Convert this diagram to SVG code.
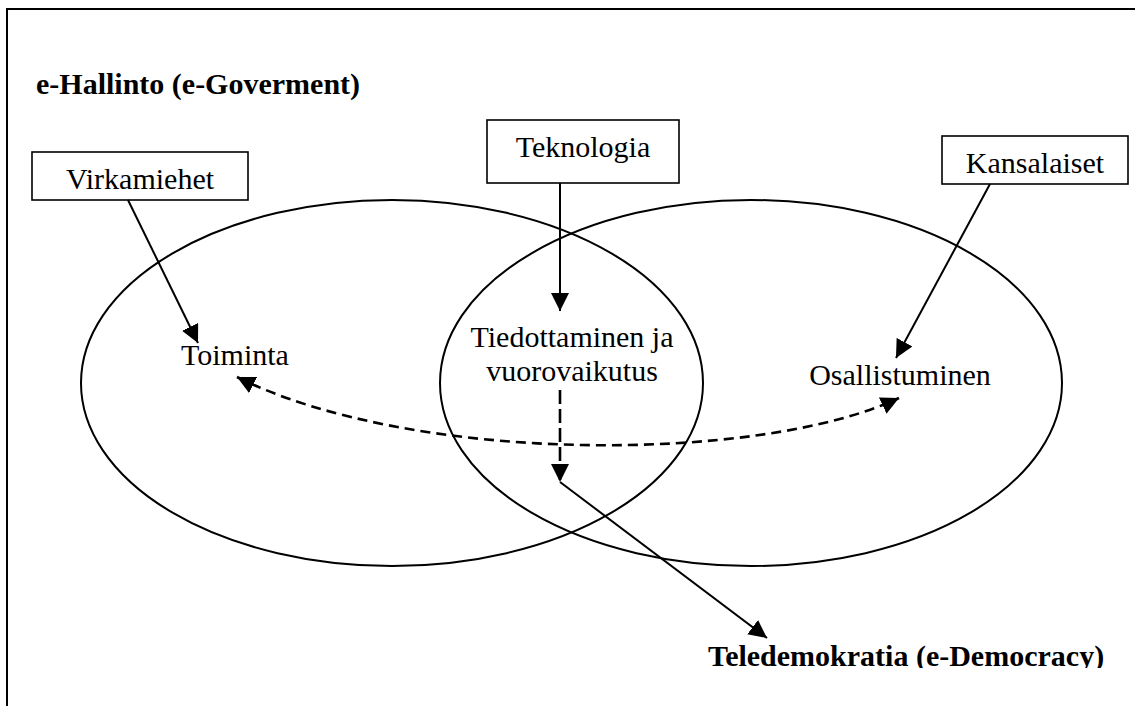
<svg xmlns="http://www.w3.org/2000/svg" width="1135" height="706" viewBox="0 0 1135 706">
<style>
text{font-family:"Liberation Serif","DejaVu Serif",serif;font-size:30px;fill:#000}
.b{font-weight:bold}
.box{fill:#fff;stroke:#000;stroke-width:1.6}
.ell{fill:none;stroke:#000;stroke-width:2}
.ln{fill:none;stroke:#000;stroke-width:2}
.dash{fill:none;stroke:#000;stroke-width:2.6;stroke-dasharray:10 6}
</style>
<defs>
<marker id="ah" markerUnits="userSpaceOnUse" markerWidth="18" markerHeight="18" viewBox="0 0 16 16" refX="16" refY="8" orient="auto-start-reverse">
<path d="M0,0 L16,8 L0,16 Z" fill="#000"/>
</marker>
<clipPath id="teleclip"><rect x="0" y="0" width="1135" height="668"/></clipPath>
</defs>
<rect x="7" y="9" width="1140" height="710" fill="#fff" stroke="#000" stroke-width="2"/>
<text class="b" x="36" y="94">e-Hallinto (e-Goverment)</text>
<g id="ellipses">
<ellipse class="ell" cx="392" cy="383" rx="311" ry="183"/>
<ellipse class="ell" cx="751" cy="383" rx="311" ry="183"/>
</g>
<g id="virkamiehet"><rect class="box" x="32" y="152" width="216" height="48"/><text x="140" y="189" text-anchor="middle">Virkamiehet</text></g>
<g id="teknologia"><rect class="box" x="487" y="120" width="192" height="63"/><text x="583" y="157" text-anchor="middle">Teknologia</text></g>
<g id="kansalaiset"><rect class="box" x="942" y="136" width="186" height="48"/><text x="1035" y="173" text-anchor="middle">Kansalaiset</text></g>
<g id="toiminta"><text x="235" y="365" text-anchor="middle">Toiminta</text></g>
<g id="tiedottaminen"><text x="572" y="347" text-anchor="middle">Tiedottaminen ja</text><text x="572" y="381" text-anchor="middle">vuorovaikutus</text></g>
<g id="osallistuminen"><text x="900" y="385" text-anchor="middle">Osallistuminen</text></g>
<g id="teledemokratia" clip-path="url(#teleclip)"><text class="b" x="906" y="666" text-anchor="middle">Teledemokratia (e-Democracy)</text></g>
<g id="connectors">
<line class="ln" x1="128" y1="200" x2="198" y2="343" marker-end="url(#ah)"/>
<line class="ln" x1="560" y1="183" x2="560" y2="311" marker-end="url(#ah)"/>
<line class="ln" x1="990" y1="184" x2="896" y2="358" marker-end="url(#ah)"/>
<path class="dash" d="M237,377 C412,464.5 759,463.8 899,398" marker-start="url(#ah)" marker-end="url(#ah)"/>
<line class="dash" x1="560" y1="390" x2="560" y2="482" style="stroke-dasharray:14 5" marker-end="url(#ah)"/>
<line class="ln" x1="560" y1="482" x2="767" y2="638" marker-end="url(#ah)"/>
</g>
</svg>
